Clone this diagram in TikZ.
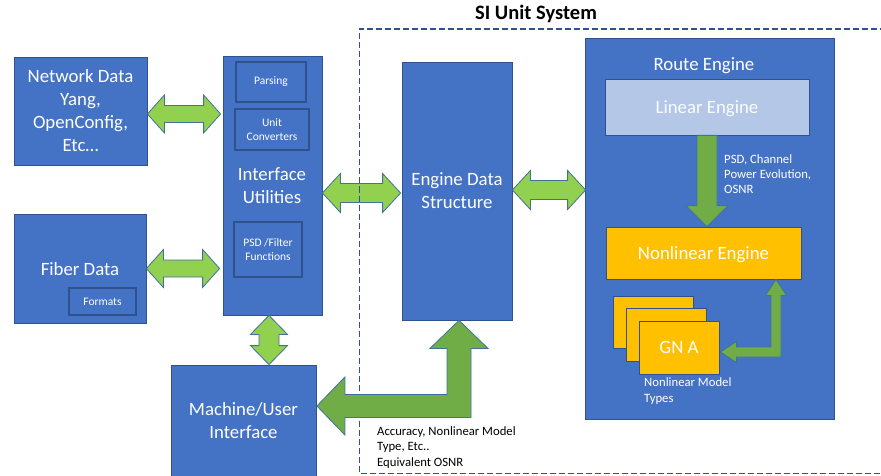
\documentclass[tikz,border=0pt]{standalone}
\usepackage{fontspec}
\setmainfont{Carlito}
\usetikzlibrary{calc}
\definecolor{bfill}{HTML}{4472C4}
\definecolor{bline}{HTML}{2F528F}
\definecolor{lgreen}{HTML}{92D050}
\definecolor{dgreen}{HTML}{70AD47}
\definecolor{gold}{HTML}{FFC000}
\definecolor{lblue}{HTML}{B4C7E7}
\definecolor{aline}{HTML}{41719C}
\tikzset{
  bluebox/.style={draw=bline, fill=bfill, line width=0.8pt, text=white, align=center, inner sep=0pt},
  bigtext/.style={font=\fontsize{18.8}{23}\selectfont},
  oneline/.style={text depth=0pt},
  smalltext/.style={font=\fontsize{11.5}{14}\selectfont},
  subbox/.style={bluebox, line width=1.1pt, smalltext},
  notetext/.style={font=\fontsize{12.7}{15.3}\selectfont, align=left, inner sep=0pt, anchor=west},
  goldbox/.style={draw=bline, fill=gold, line width=0.8pt, text=white, align=center, inner sep=0pt},
  lightarrow/.style={draw=aline, fill=lgreen, line width=0.8pt, line join=miter},
  darkarrow/.style={draw=aline, fill=dgreen, line width=0.8pt, line join=miter},
  sidashed/.style={draw=bline, line width=1.2pt, dash pattern=on 6pt off 3pt}
}
% horizontal double block arrow: #2 left tip, #3 right tip, #4 head length, #5 head half height, #6 shaft half height
\newcommand\hdarr[6][lightarrow]{%
  \draw[#1] (#2) -- ($(#2)+(#4,-#5)$) -- ($(#2)+(#4,-#6)$) -- ($(#3)+(-#4,-#6)$) -- ($(#3)+(-#4,-#5)$) -- (#3)
    -- ($(#3)+(-#4,#5)$) -- ($(#3)+(-#4,#6)$) -- ($(#2)+(#4,#6)$) -- ($(#2)+(#4,#5)$) -- cycle;}
% vertical double block arrow: #2 top tip, #3 bottom tip
\newcommand\vdarr[6][lightarrow]{%
  \draw[#1] (#2) -- ($(#2)+(#5,#4)$) -- ($(#2)+(#6,#4)$) -- ($(#3)+(#6,-#4)$) -- ($(#3)+(#5,-#4)$) -- (#3)
    -- ($(#3)+(-#5,-#4)$) -- ($(#3)+(-#6,-#4)$) -- ($(#2)+(-#6,#4)$) -- ($(#2)+(-#5,#4)$) -- cycle;}
\begin{document}
\begin{tikzpicture}[x=1pt,y=-1pt]
\useasboundingbox (0,0) rectangle (881,476);

% title
\node[font=\bfseries\fontsize{20.5}{24}\selectfont, inner sep=0pt] (title) at (536,14) {SI Unit System};

% left column
\node[bluebox, bigtext, minimum width=133pt, minimum height=108pt] (net) at (80.5,111)
  {Network Data\\Yang,\\OpenConfig,\\Etc\ldots};
\node[bluebox, bigtext, oneline, minimum width=132pt, minimum height=109pt] (fib) at (80,268.5) {Fiber Data};
\node[subbox, minimum width=67pt, minimum height=27pt] (fmt) at (102.5,301.5) {Formats};

% interface utilities
\node[bluebox, minimum width=99pt, minimum height=259pt] (iu) at (272.5,185.5) {};
\node[subbox, minimum width=70pt, minimum height=40pt] (pars) at (271,82) {Parsing};
\node[subbox, minimum width=74pt, minimum height=41pt] (unit) at (272,129.5) {Unit\\Converters};
\node[text=white, bigtext, align=center, inner sep=0pt] (iutext) at (272,186) {Interface\\Utilities};
\node[subbox, minimum width=68pt, minimum height=55pt] (psd) at (268,249.5) {PSD /Filter\\Functions};

% machine / user interface
\node[bluebox, bigtext, minimum width=145pt, minimum height=111pt] (mui) at (243.5,420.5) {Machine/User\\Interface};

% engine data structure
\node[bluebox, bigtext, minimum width=110pt, minimum height=258pt] (eds) at (457,191) {Engine Data\\Structure};

% route engine
\node[bluebox, minimum width=249pt, minimum height=381pt] (re) at (709.5,228.5) {};
\node[text=white, bigtext, oneline, inner sep=0pt] (retext) at (704,64) {Route Engine};
\node[draw=bline, fill=lblue, line width=0.8pt, text=white!95!lblue, bigtext, oneline, inner sep=0pt,
      minimum width=204pt, minimum height=56pt] (lin) at (707,107) {Linear Engine};
\node[goldbox, bigtext, oneline, minimum width=195pt, minimum height=52pt] (nle) at (703.5,253) {Nonlinear Engine};
\node[goldbox, minimum width=80pt, minimum height=52pt] (card1) at (653,322) {};
\node[goldbox, minimum width=80pt, minimum height=53pt] (card2) at (666,334.5) {};
\node[goldbox, bigtext, oneline, minimum width=80pt, minimum height=53pt] (gna) at (679,347.5) {GN A};

% linear -> nonlinear arrow
\coordinate (dt) at (lin.south);
\coordinate (db) at (lin.south |- nle.north);
\draw[darkarrow] ($(dt)+(-10,0)$) -- ($(dt)+(10,0)$) -- ($(db)+(10,-21)$) -- ($(db)+(21,-21)$) -- (db)
   -- ($(db)+(-21,-21)$) -- ($(db)+(-10,-21)$) -- cycle;
\node[notetext, text=white] (psdnote) at (724,174) {PSD, Channel\\Power Evolution,\\OSNR};

% GN A <-> nonlinear elbow
\coordinate (gt) at ($(nle.south)+(72.5,0)$);
\coordinate (gl) at ($(gna.east)+(1,4.5)$);
\draw[darkarrow] (gt) -- ($(gt)+(10.5,16)$) -- ($(gt)+(5,16)$) -- ($(gt|-gl)+(5,5)$) -- ($(gl)+(16,5)$)
   -- ($(gl)+(16,10.5)$) -- (gl) -- ($(gl)+(16,-10.5)$) -- ($(gl)+(16,-5)$) -- ($(gt|-gl)+(-5,-5)$)
   -- ($(gt)+(-5,16)$) -- ($(gt)+(-10.5,16)$) -- cycle;
\node[notetext, text=white] (nlmt) at (644,391) {Nonlinear Model\\Types};

% light green double arrows
\hdarr{$(net.east)+(0,3)$}{$(iu.west |- net.east)+(-2,3)$}{17}{19}{8.5}
\hdarr{$(fib.east)+(0,0)$}{$(iu.west |- fib.east)+(-3,0)$}{17}{19}{8.5}
\hdarr{$(iu.east)+(0,7.5)$}{$(eds.west |- iu.east)+(-1,7.5)$}{18}{19.5}{9.5}
\hdarr{$(eds.east)+(0,-1)$}{$(re.west |- eds.east)+(1,-1)$}{18}{19.5}{9.5}
\vdarr{$(iu.south)+(-3.5,0)$}{$(mui.north -| iu.south)+(-3.5,0)$}{19}{18.5}{10}

% dashed SI unit system boundary
\draw[sidashed] (886,29) -- (359.5,29) -- (359.5,473.5) -- (886,473.5);

% big elbow arrow engine data <-> machine/user interface
\coordinate (bt) at ($(eds.south)+(2,0)$);
\coordinate (bl) at ($(mui.east)+(0.5,-14.5)$);
\draw[darkarrow] (bt) -- ($(bt)+(29,28)$) -- ($(bt)+(12,28)$) -- ($(bt|-bl)+(12,11.5)$) -- ($(bl)+(28,11.5)$)
   -- ($(bl)+(28,29)$) -- (bl) -- ($(bl)+(28,-29)$) -- ($(bl)+(28,-11.5)$) -- ($(bt|-bl)+(-12,-11.5)$)
   -- ($(bt)+(-12,28)$) -- ($(bt)+(-29,28)$) -- cycle;
\node[notetext] (accnote) at (377,447.5) {Accuracy, Nonlinear Model\\Type, Etc..\\Equivalent OSNR};
\end{tikzpicture}
\end{document}
